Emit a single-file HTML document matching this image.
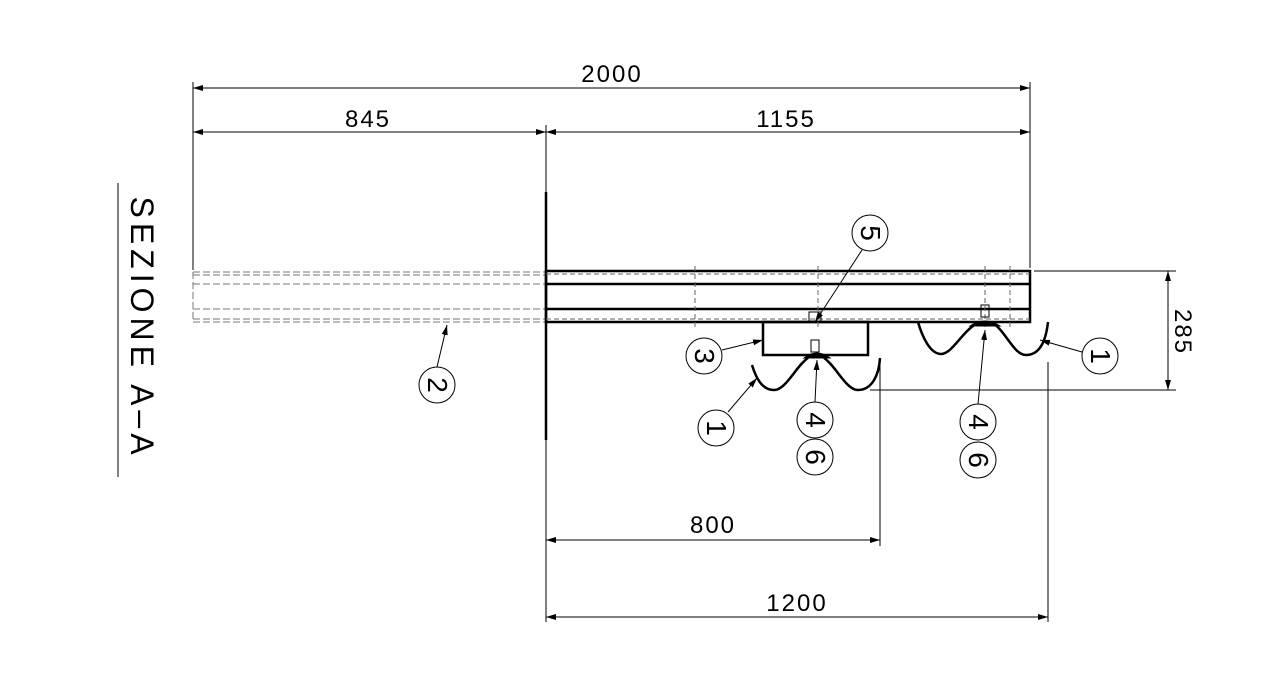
<!DOCTYPE html><html><head><style>body{margin:0;background:#fff}svg{display:block}text{font-family:"Liberation Sans",sans-serif;fill:#000}</style></head><body>
<svg width="1268" height="691" viewBox="0 0 1268 691" xmlns="http://www.w3.org/2000/svg">
<defs><marker id="a" viewBox="0 0 10 6" refX="10" refY="3" markerWidth="10" markerHeight="6" orient="auto-start-reverse" markerUnits="userSpaceOnUse"><path d="M0,0 L10,3 L0,6z" fill="#000"/></marker></defs>
<g stroke="#000" stroke-width="1" fill="none">
<line x1="193" y1="82" x2="193" y2="270"/><line x1="1030" y1="82" x2="1030" y2="268"/><line x1="546" y1="125" x2="546" y2="192"/>
<line x1="193" y1="88" x2="1030" y2="88" marker-start="url(#a)" marker-end="url(#a)"/>
<line x1="193" y1="132" x2="546" y2="132" marker-start="url(#a)" marker-end="url(#a)"/>
<line x1="546" y1="132" x2="1030" y2="132" marker-start="url(#a)" marker-end="url(#a)"/>
<line x1="1034" y1="271" x2="1176" y2="271"/><line x1="870" y1="390" x2="1176" y2="390"/>
<line x1="1168" y1="271" x2="1168" y2="390" marker-start="url(#a)" marker-end="url(#a)"/>
<line x1="880" y1="366" x2="880" y2="546"/><line x1="1048" y1="362" x2="1048" y2="622"/><line x1="546" y1="440" x2="546" y2="622"/>
<line x1="546" y1="540" x2="880" y2="540" marker-start="url(#a)" marker-end="url(#a)"/>
<line x1="546" y1="617" x2="1048" y2="617" marker-start="url(#a)" marker-end="url(#a)"/>
<line x1="118" y1="183" x2="118" y2="477"/>
<g stroke="#777" stroke-dasharray="7,3"><line x1="193" y1="272" x2="546" y2="272"/><line x1="193" y1="275" x2="546" y2="275"/><line x1="193" y1="284" x2="546" y2="284"/><line x1="193" y1="309" x2="546" y2="309"/><line x1="193" y1="319" x2="546" y2="319"/><line x1="193" y1="322" x2="546" y2="322"/><line x1="193" y1="272" x2="193" y2="322"/></g>
<g stroke-width="2.5"><rect x="546" y="271" width="484" height="51"/><line x1="546" y1="284" x2="1030" y2="284"/><line x1="546" y1="309" x2="1030" y2="309"/><line x1="546" y1="192" x2="546" y2="440"/>
<rect x="763" y="322" width="105" height="33"/></g>
<g stroke="#666" stroke-dasharray="5,3"><line x1="546" y1="274" x2="1030" y2="274"/><line x1="546" y1="319" x2="1030" y2="319"/><line x1="695" y1="266" x2="695" y2="328"/><line x1="818" y1="266" x2="818" y2="328"/><line x1="985" y1="266" x2="985" y2="328"/><line x1="1010" y1="266" x2="1010" y2="328"/></g>
<g stroke-width="2.5"><path d="M752,365 C756,378 762,390 774,390 C786,390 796,366 808,358 M824,358 C836,366 846,390 858,390 C872,390 879,375 880,358"/>
<path d="M918,322 C922,336 930,354 941,354 C952,354 962,332 976,324 M994,324 C1006,332 1014,355 1026,355 C1040,355 1046,340 1048,322"/></g>
<path d="M804,358 Q817,348 830,358 Z M970,326 Q985,316 1000,326 Z" fill="#000"/>
<rect x="811" y="340" width="8" height="12"/><rect x="809" y="312" width="12" height="9"/><rect x="981" y="305" width="8" height="12"/>
<line x1="862" y1="250" x2="815" y2="322" marker-end="url(#a)"/>
<line x1="722" y1="350" x2="763" y2="340" marker-end="url(#a)"/>
<line x1="1082" y1="352" x2="1040" y2="340" marker-end="url(#a)"/>
<line x1="437" y1="367" x2="447" y2="325" marker-end="url(#a)"/>
<line x1="728" y1="412" x2="757" y2="378" marker-end="url(#a)"/>
<line x1="815" y1="402" x2="817" y2="360" marker-end="url(#a)"/>
<line x1="978" y1="404" x2="985" y2="330" marker-end="url(#a)"/>
<circle cx="870" cy="233" r="18"/><circle cx="704" cy="356" r="18"/><circle cx="1100" cy="356" r="18"/><circle cx="437" cy="385" r="18"/><circle cx="716" cy="428" r="18"/><circle cx="815" cy="420" r="18"/><circle cx="815" cy="457" r="18"/><circle cx="978" cy="422" r="18"/><circle cx="978" cy="460" r="18"/>
</g>
<g font-size="24" text-anchor="middle" letter-spacing="2">
<text x="612" y="82">2000</text><text x="368" y="127">845</text><text x="786" y="127">1155</text><text x="713" y="533">800</text><text x="797" y="611">1200</text>
<text transform="translate(1175,332) rotate(90)">285</text>
<text transform="translate(131,328) rotate(90)" font-size="32" letter-spacing="5">SEZIONE A–A</text>
</g>
<g font-size="28" text-anchor="middle">
<text transform="translate(861,233) rotate(90)">5</text><text transform="translate(695,356) rotate(90)">3</text><text transform="translate(1091,356) rotate(90)">1</text><text transform="translate(428,385) rotate(90)">2</text><text transform="translate(707,428) rotate(90)">1</text><text transform="translate(806,420) rotate(90)">4</text><text transform="translate(806,457) rotate(90)">6</text><text transform="translate(969,422) rotate(90)">4</text><text transform="translate(969,460) rotate(90)">6</text>
</g>
</svg></body></html>
